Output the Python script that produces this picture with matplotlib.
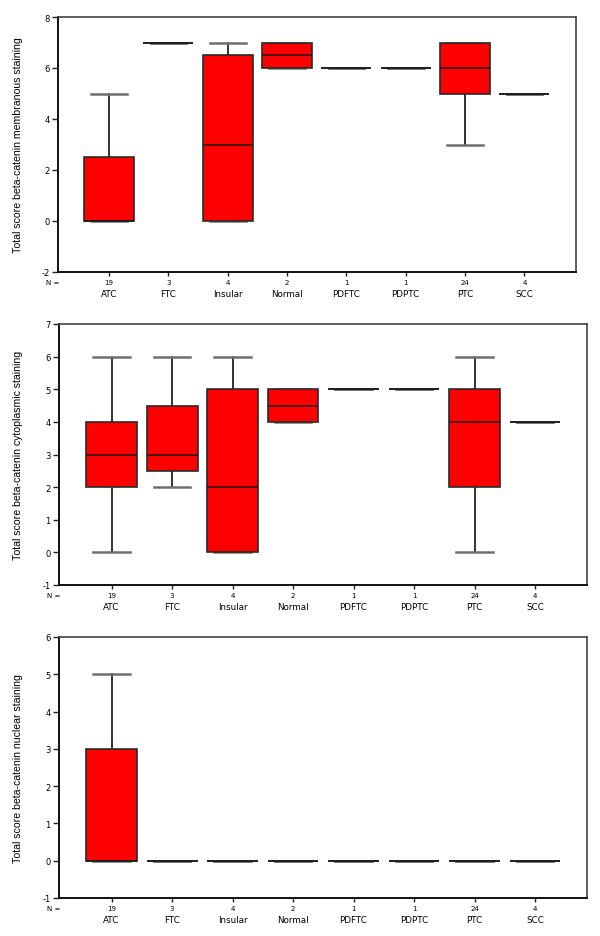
import matplotlib
matplotlib.use("Agg")
import matplotlib.pyplot as plt

categories = ["ATC", "FTC", "Insular", "Normal", "PDFTC", "PDPTC", "PTC", "SCC"]
n_values = [19, 3, 4, 2, 1, 1, 24, 4]

# membranous staining: whislo, q1, median, q3, whishi
memb_whislo = [0, 7, 0, 6, 6, 6, 3, 5]
memb_q1     = [0, 7, 0, 6, 6, 6, 5, 5]
memb_med    = [0, 7, 3, 6.5, 6, 6, 6, 5]
memb_q3     = [2.5, 7, 6.5, 7, 6, 6, 7, 5]
memb_whishi = [5, 7, 7, 7, 6, 6, 7, 5]

# cytoplasmic staining
cyto_whislo = [0, 2, 0, 4, 5, 5, 0, 4]
cyto_q1     = [2, 2.5, 0, 4, 5, 5, 2, 4]
cyto_med    = [3, 3, 2, 4.5, 5, 5, 4, 4]
cyto_q3     = [4, 4.5, 5, 5, 5, 5, 5, 4]
cyto_whishi = [6, 6, 6, 5, 5, 5, 6, 4]

# nuclear staining
nucl_whislo = [0, 0, 0, 0, 0, 0, 0, 0]
nucl_q1     = [0, 0, 0, 0, 0, 0, 0, 0]
nucl_med    = [0, 0, 0, 0, 0, 0, 0, 0]
nucl_q3     = [3, 0, 0, 0, 0, 0, 0, 0]
nucl_whishi = [5, 0, 0, 0, 0, 0, 0, 0]

panels = [
    dict(label="Total score beta-catenin membranous staining",
         stats=(memb_whislo, memb_q1, memb_med, memb_q3, memb_whishi),
         ylim=(-2, 8), yticks=[-2, 0, 2, 4, 6, 8],
         rect=[58/600, 1-273/937, 518/600, 255/937], xlim=(0.14, 8.87)),
    dict(label="Total score beta-catenin cytoplasmic staining",
         stats=(cyto_whislo, cyto_q1, cyto_med, cyto_q3, cyto_whishi),
         ylim=(-1, 7), yticks=list(range(-1, 8)),
         rect=[59/600, 1-586/937, 528/600, 261/937], xlim=(0.13, 8.86)),
    dict(label="Total score beta-catenin nuclear staining",
         stats=(nucl_whislo, nucl_q1, nucl_med, nucl_q3, nucl_whishi),
         ylim=(-1, 6), yticks=list(range(-1, 7)),
         rect=[59/600, 1-899/937, 528/600, 261/937], xlim=(0.13, 8.86)),
]

fig = plt.figure(figsize=(6, 9.37), dpi=100)
positions = list(range(1, len(categories) + 1))

for p in panels:
    ax = fig.add_axes(p["rect"])
    lo, q1, med, q3, hi = p["stats"]
    bstats = []
    for i, c in enumerate(categories):
        bstats.append(dict(label=c, whislo=lo[i], q1=q1[i], med=med[i],
                           q3=q3[i], whishi=hi[i], fliers=[]))
    ax.bxp(bstats, positions=positions, widths=0.84, capwidths=0.6,
           patch_artist=True, showfliers=False,
           boxprops=dict(facecolor="#ff0000", edgecolor="#2a2a2a", linewidth=1.2, zorder=3),
           medianprops=dict(color="#1a1a1a", linewidth=1.1, zorder=4),
           whiskerprops=dict(color="#111111", linewidth=1.2, zorder=1.5),
           capprops=dict(color="#6e6e6e", linewidth=1.8, zorder=1.5))
    ax.set_xlim(*p["xlim"])
    ax.set_ylim(*p["ylim"])
    ax.set_yticks(p["yticks"])
    ax.set_yticklabels([str(t) for t in p["yticks"]], fontsize=6, family="DejaVu Sans")
    ax.tick_params(axis="y", length=4, width=1, pad=2, color="#222222")
    ax.set_xticks(positions)
    ax.set_xticklabels([str(n) for n in n_values], fontsize=5, family="DejaVu Sans")
    ax.tick_params(axis="x", length=3, width=1, pad=2, color="#222222")
    for i, c in enumerate(categories):
        ax.annotate(c, xy=(positions[i], 0), xycoords=("data", "axes fraction"),
                    xytext=(0, -22), textcoords="offset pixels",
                    ha="center", va="center", fontsize=6.3, family="DejaVu Sans")
    ax.annotate("N =", xy=(0, 0), xycoords="axes fraction",
                xytext=(-5, -10), textcoords="offset pixels",
                ha="center", va="center", fontsize=5, family="DejaVu Sans")
    for s in ["left", "bottom"]:
        ax.spines[s].set_color("#111111")
        ax.spines[s].set_linewidth(1.4)
    for s in ["top", "right"]:
        ax.spines[s].set_color("#444444")
        ax.spines[s].set_linewidth(1.2)
    r = p["rect"]
    fig.text(18/600, r[1] + r[3]/2, p["label"], rotation=90, ha="center",
             va="center", fontsize=7.6, family="Liberation Sans")

fig.savefig("out.png", dpi=100)
